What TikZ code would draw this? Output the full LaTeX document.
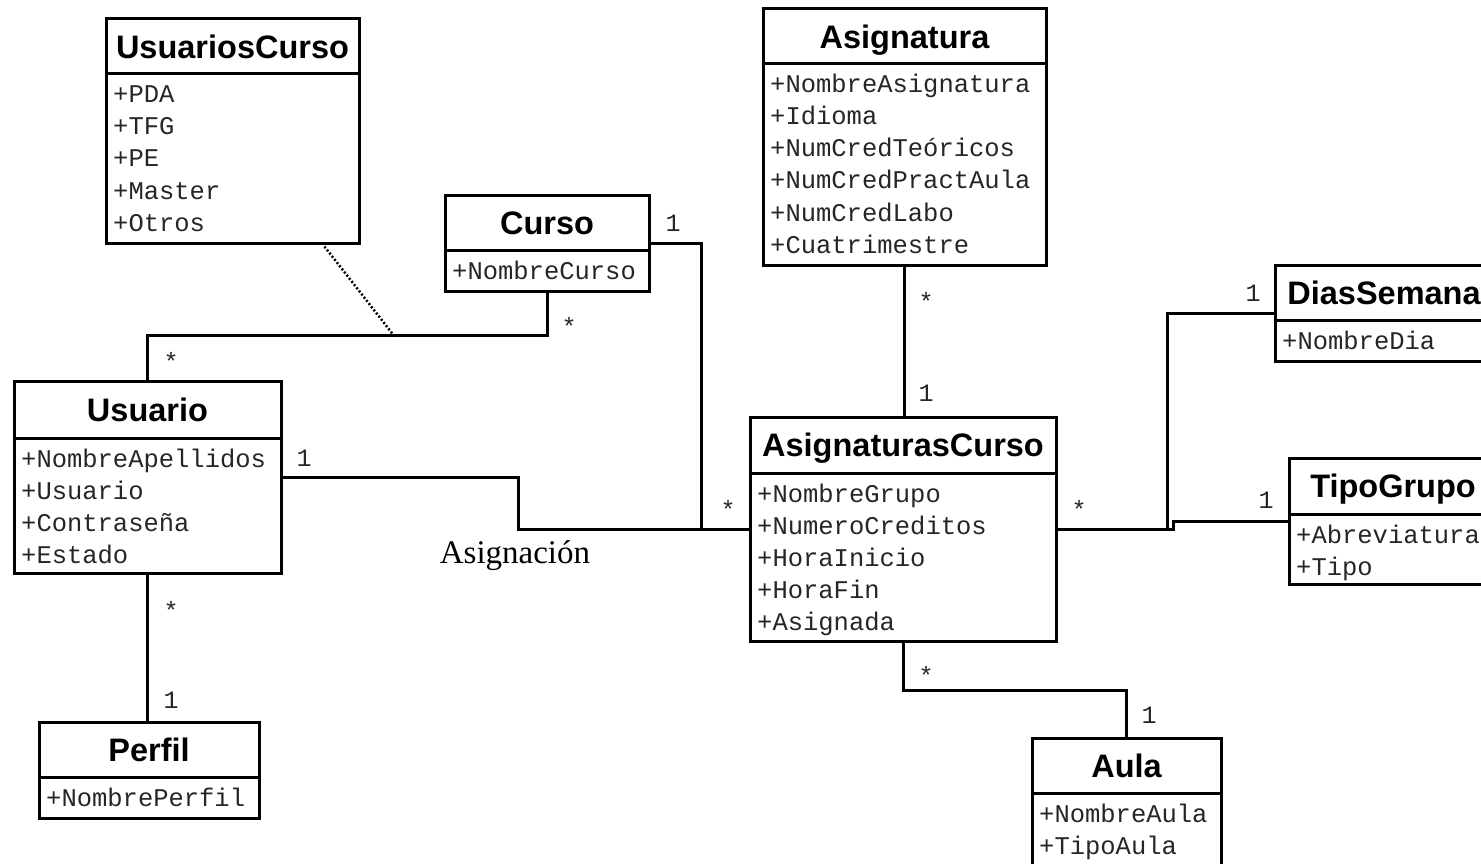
\documentclass[tikz,border=0pt]{standalone}
\usepackage{fontspec}
\usetikzlibrary{fit,calc}
\newfontfamily\ttlfont{Liberation Sans}
\newfontfamily\attrfont{Liberation Mono}
\newfontfamily\serffont{Liberation Serif}
\tikzset{
  boxline/.style={line width=3pt, black},
  clsbox/.style={draw, line width=3pt, inner sep=0pt, fill=white},
  clstitle/.style={font=\ttlfont\bfseries\fontsize{32.5}{36}\selectfont, inner sep=0pt, text height=23.3pt, text depth=0pt, anchor=center},
  clsattr/.style={font=\attrfont\fontsize{25.5}{32}\selectfont, inner sep=0pt, anchor=base west, text=black!85},
  conn/.style={line width=3pt, black},
  dotconn/.style={line width=2.5pt, black, dash pattern=on 2pt off 2pt},
  mult/.style={font=\attrfont\fontsize{25}{30}\selectfont, inner sep=0pt, anchor=center, text=black!85},
  assoclabel/.style={font=\serffont\fontsize{33}{38}\selectfont, inner sep=0pt, anchor=center}
}
% #1 name, #2 left, #3 top, #4 right, #5 bottom, #6 divider y, #7 title, #8 attributes
\newcommand\umlcls[8]{%
  \node[clsbox, fit={(#2,#3) (#4,#5)}] (#1) {};
  \draw[boxline] (#2,#6) -- (#4,#6);
  \node[clstitle] (#1-title) at ({(#2+#4)/2},{(#3+#6)/2}) {#7};
  \foreach \a [count=\i] in {#8} {\node[clsattr] (#1-a\i) at (#2+7,{#6+29+32*(\i-1)}) {\a};}
}
\begin{document}
\begin{tikzpicture}[x=1pt,y=-1pt]
\fill[white] (0,0) rectangle (1481,864);
\useasboundingbox (0,0) rectangle (1481,864);
\clip (0,0) rectangle (1481,864);

% classes
\umlcls{uc}{106}{19}{359}{243}{74}{UsuariosCurso}{+PDA,+TFG,+PE,+Master,+Otros}
\umlcls{curso}{445}{195}{649}{291}{250}{Curso}{+NombreCurso}
\umlcls{asig}{763}{9}{1046}{265}{64}{Asignatura}{+NombreAsignatura,+Idioma,+NumCredTeóricos,+NumCredPractAula,+NumCredLabo,+Cuatrimestre}
\umlcls{ds}{1275}{265}{1493}{361}{320}{DiasSemana}{+NombreDia}
\umlcls{tg}{1289}{458}{1497}{584}{514}{TipoGrupo}{+Abreviatura,+Tipo}
\umlcls{usuario}{14}{381}{281}{573}{438}{Usuario}{+NombreApellidos,+Usuario,+Contraseña,+Estado}
\umlcls{ac}{750}{417}{1056}{641}{473}{AsignaturasCurso}{+NombreGrupo,+NumeroCreditos,+HoraInicio,+HoraFin,+Asignada}
\umlcls{perfil}{39}{722}{259}{818}{777}{Perfil}{+NombrePerfil}
\umlcls{aula}{1032}{738}{1221}{880}{793}{Aula}{+NombreAula,+TipoAula}

% connectors
\coordinate (assoc) at (395,337);
\draw[conn] (usuario.north) -- ++(0,-44) -| (curso.south);
\draw[dotconn] (uc.south east) ++(-36,2) -- (assoc);
\coordinate (j1) at (701,529);
\draw[conn] (curso.east) -| (j1) -- (ac.west);
\draw[conn] (usuario.east) -- ++(236,0) |- (ac.west);
\draw[conn] (asig.south) -- (asig.south |- ac.north);
\draw[conn] (ac.east) -- ++(110,0) |- (ds.west);
\draw[conn] (ac.east) -- ++(116,0) |- (tg.west);
\draw[conn] (ac.south) -- ++(0,48) -| (aula.north);
\draw[conn] (usuario.south) -- (usuario.south |- perfil.north);

% multiplicities
\node[mult] (m1) at (171,361) {*};
\node[mult] (m2) at (569,326) {*};
\node[mult] (m3) at (673,223) {1};
\node[mult] (m4) at (728,509) {*};
\node[mult] (m5) at (304,458) {1};
\node[mult] (m6) at (171,610) {*};
\node[mult] (m7) at (171,700) {1};
\node[mult] (m8) at (926,301) {*};
\node[mult] (m9) at (926,393) {1};
\node[mult] (m10) at (1079,509) {*};
\node[mult] (m11) at (1253,293) {1};
\node[mult] (m12) at (1266,500) {1};
\node[mult] (m13) at (926,675) {*};
\node[mult] (m14) at (1149,715) {1};

\node[assoclabel] (asignacion) at (515,556) {Asignación};
\end{tikzpicture}
\end{document}
